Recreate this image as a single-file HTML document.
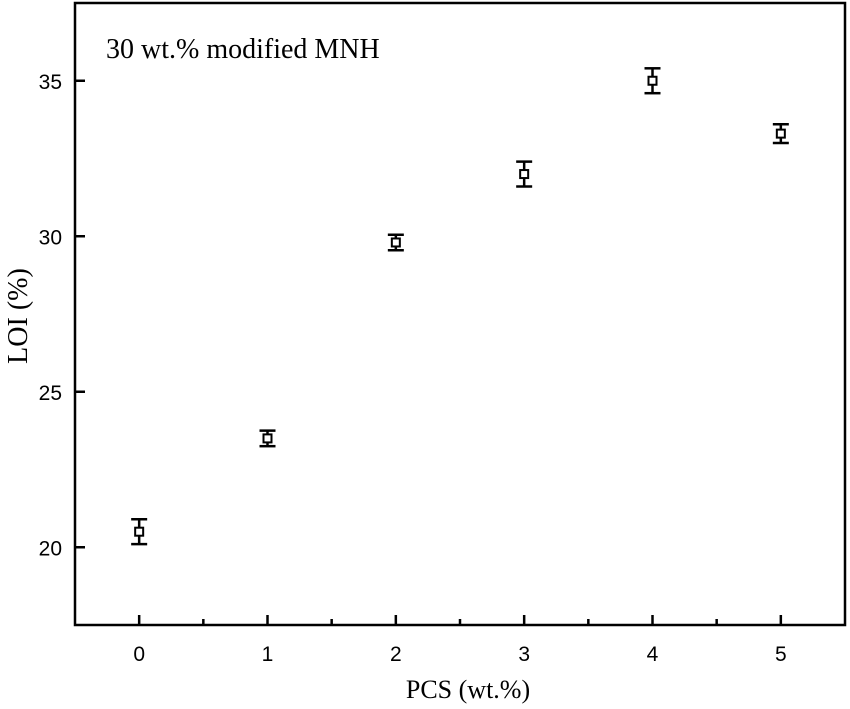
<!DOCTYPE html>
<html><head><meta charset="utf-8"><style>
html,body{margin:0;padding:0;background:#fff;}
svg{display:block;}
</style></head><body>
<svg id="chart" width="850" height="709" viewBox="0 0 850 709">
<g id="axes"></g><g id="marks"></g>
</svg>
<script>
const xCats=[0,1,2,3,4,5];
const loiValues=[20.5,23.5,29.8,32.0,35.0,33.3];
const loiErrors=[0.4,0.25,0.25,0.4,0.4,0.3];
const xTickLabels=["0","1","2","3","4","5"];
const yTickValues=[20,25,30,35];
const yTickLabels=["20","25","30","35"];

const L=75,R=845,T=3,B=625;
const xMin=-0.5,xMax=5.5,yMin=17.5,yMax=37.5;
const xs=v=>L+(v-xMin)/(xMax-xMin)*(R-L);
const ys=v=>B-(v-yMin)/(yMax-yMin)*(B-T);
const NS="http://www.w3.org/2000/svg";
function mk(tag,attrs,parent){const e=document.createElementNS(NS,tag);for(const k in attrs)e.setAttribute(k,attrs[k]);parent.appendChild(e);return e;}
const ax=document.getElementById('axes'),mg=document.getElementById('marks');

const frame=mk('rect',{x:L,y:T,width:R-L,height:B-T,fill:'none',stroke:'#000','stroke-width':2.5},ax);



xCats.forEach((c,i)=>{
  const x=xs(c);
  const t=mk('line',{x1:x,x2:x,y1:B,y2:B-10,stroke:'#000','stroke-width':2.5},ax);
  
  
  const lb=mk('text',{x:x,y:B+36,'text-anchor':'middle','font-family':'Liberation Sans, sans-serif','font-size':21},ax);
  lb.textContent=xTickLabels[i];
  
  
  if(i<xCats.length-1){
    const xm=xs(c+0.5);
    const m=mk('line',{x1:xm,x2:xm,y1:B,y2:B-6,stroke:'#000','stroke-width':2.5},ax);
    
    
  }
});
yTickValues.forEach((v,i)=>{
  const y=ys(v);
  const t=mk('line',{x1:L,x2:L+10,y1:y,y2:y,stroke:'#000','stroke-width':2.5},ax);
  
  
  const lb=mk('text',{x:L-13,y:y+8,'text-anchor':'end','font-family':'Liberation Sans, sans-serif','font-size':21},ax);
  lb.textContent=yTickLabels[i];
  
  
});
const xt=mk('text',{x:(L+R)/2+8,y:698,'text-anchor':'middle','font-family':'Liberation Serif, serif','font-size':26},ax);
xt.textContent='PCS (wt.%)';


const yt=mk('text',{x:0,y:0,'text-anchor':'middle','font-family':'Liberation Serif, serif','font-size':28,transform:'translate(27,316) rotate(-90)'},ax);
yt.textContent='LOI (%)';


const an=mk('text',{x:106,y:58,'font-family':'Liberation Serif, serif','font-size':28},ax);
an.textContent='30 wt.% modified MNH';



xCats.forEach((c,i)=>{
  const x=xs(c),y=ys(loiValues[i]),y1=ys(loiValues[i]+loiErrors[i]),y2=ys(loiValues[i]-loiErrors[i]);
  const g=mk('g',{},mg);
  
  
  mk('line',{x1:x,x2:x,y1:y1,y2:y2,stroke:'#000','stroke-width':2.5},g);
  mk('line',{x1:x-8,x2:x+8,y1:y1,y2:y1,stroke:'#000','stroke-width':2.5},g);
  mk('line',{x1:x-8,x2:x+8,y1:y2,y2:y2,stroke:'#000','stroke-width':2.5},g);
  mk('rect',{x:x-4,y:y-4,width:8,height:8,fill:'#fff',stroke:'#000','stroke-width':2},g);
});
</script>
</body></html>
